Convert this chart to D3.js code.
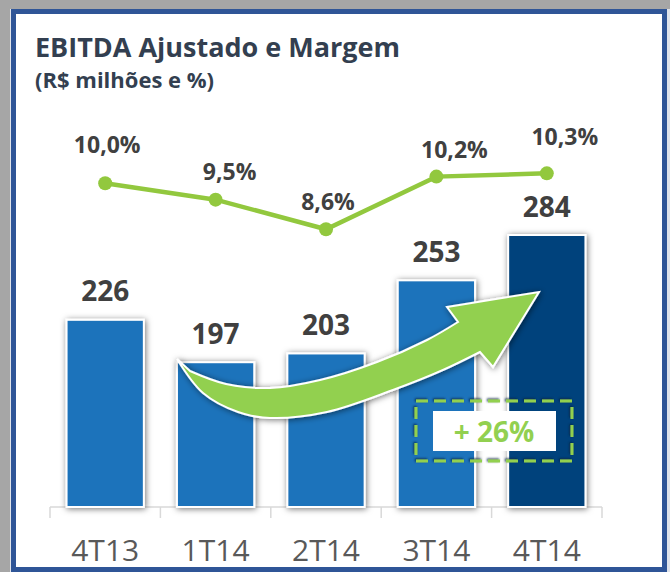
<!DOCTYPE html>
<html>
<head>
<meta charset="utf-8">
<script src="https://cdn.jsdelivr.net/npm/d3@7"></script>
<style>
  html, body { margin: 0; padding: 0; background: #fff; }
  svg { display: block; }
  text { font-family: "Open Sans", "DejaVu Sans", sans-serif; }
</style>
</head>
<body>
<div id="chart"></div>
<script>

// data
var quarters = ["4T13", "1T14", "2T14", "3T14", "4T14"];
var ebitda = [226, 197, 203, 253, 284];          // R$ milhões
var margem = [10.0, 9.5, 8.6, 10.2, 10.3];       // %
var growthLabel = "+ 26%";

// label nudges for the margin labels (dx, dy from the point)
var margemNudge = [[2, -30], [14, -20], [2, -19], [18, -19], [18, -28]];

var width = 670, height = 572;

var svg = d3.select("#chart").append("svg")
    .attr("width", width)
    .attr("height", height);

var defs = svg.append("defs");
var glow = defs.append("filter").attr("id", "glow")
    .attr("x", "-20%").attr("y", "-20%").attr("width", "140%").attr("height", "140%");
glow.append("feDropShadow")
    .attr("dx", 1).attr("dy", 1)
    .attr("stdDeviation", 3)
    .attr("flood-color", "#000")
    .attr("flood-opacity", 0.55);

var darkEdge = defs.append("filter").attr("id", "darkEdge");
darkEdge.append("feDropShadow")
    .attr("dx", -1).attr("dy", -1)
    .attr("stdDeviation", 1)
    .attr("flood-color", "#0b2340")
    .attr("flood-opacity", 0.9);

// frame: gray strip top/left, blue border
svg.append("rect").attr("width", width).attr("height", height).attr("fill", "#a6a6a6");
svg.append("rect").attr("x", 10).attr("y", 9).attr("width", width - 10).attr("height", height - 9).attr("fill", "#dfe3ea");
svg.append("rect")
    .attr("x", 13.5).attr("y", 11.5)
    .attr("width", 651).attr("height", 558)
    .attr("fill", "#fff")
    .attr("stroke", "#2f5597")
    .attr("stroke-width", 5);

// title
svg.append("text")
    .attr("x", 35).attr("y", 57)
    .attr("fill", "#333f50")
    .attr("font-size", 27)
    .attr("font-weight", 700)
    .text("EBITDA Ajustado e Margem");

svg.append("text")
    .attr("x", 35).attr("y", 88)
    .attr("fill", "#333f50")
    .attr("font-size", 22)
    .attr("font-weight", 700)
    .text("(R$ milhões e %)");

// scales
var x = d3.scaleBand()
    .domain(quarters)
    .range([50, 602])
    .paddingInner(0.3)
    .paddingOuter(0.15);

var yBar = d3.scaleLinear().domain([98, 284]).range([507, 235]);
var yPct = d3.scaleLinear().domain([8, 11]).range([249, 150.3]);

function cx(q) { return x(q) + x.bandwidth() / 2; }

// axis line with ticks at the band edges
var axisY = yBar.range()[0];
var edges = d3.range(quarters.length + 1).map(function(i) { return x.range()[0] + i * x.step(); });

var axis = svg.append("g").attr("class", "axis");
axis.append("line")
    .attr("x1", edges[0]).attr("x2", edges[edges.length - 1])
    .attr("y1", axisY).attr("y2", axisY)
    .attr("stroke", "#d9d9d9").attr("stroke-width", 1.5);
axis.selectAll(".tick")
    .data(edges)
    .enter().append("line")
    .attr("x1", function(d) { return d; }).attr("x2", function(d) { return d; })
    .attr("y1", axisY).attr("y2", axisY + 11)
    .attr("stroke", "#d9d9d9").attr("stroke-width", 1.5);
axis.selectAll(".cat")
    .data(quarters)
    .enter().append("text")
    .attr("x", cx)
    .attr("y", 561)
    .attr("text-anchor", "middle")
    .attr("fill", "#595959")
    .attr("font-size", 30)
    .text(function(d) { return d; });

// bars
svg.append("g").selectAll("rect")
    .data(ebitda)
    .enter().append("rect")
    .attr("x", function(d, i) { return x(quarters[i]); })
    .attr("y", function(d) { return yBar(d); })
    .attr("width", x.bandwidth())
    .attr("height", function(d) { return axisY - yBar(d); })
    .attr("fill", function(d, i) { return i === ebitda.length - 1 ? "#02437b" : "#1e73bb"; })
    .attr("stroke", "#fff")
    .attr("stroke-width", 2)
    .attr("filter", "url(#glow)");

svg.append("g").selectAll("text")
    .data(ebitda)
    .enter().append("text")
    .attr("x", function(d, i) { return cx(quarters[i]); })
    .attr("y", function(d) { return yBar(d) - 18.5; })
    .attr("text-anchor", "middle")
    .attr("fill", "#404040")
    .attr("font-size", 28)
    .attr("font-weight", 700)
    .text(function(d) { return d; });

// margin line
var line = d3.line()
    .x(function(d, i) { return cx(quarters[i]); })
    .y(function(d) { return yPct(d); });

svg.append("path")
    .datum(margem)
    .attr("d", line)
    .attr("fill", "none")
    .attr("stroke", "#92c83e")
    .attr("stroke-width", 4.5);

svg.append("g").selectAll("circle")
    .data(margem)
    .enter().append("circle")
    .attr("cx", function(d, i) { return cx(quarters[i]); })
    .attr("cy", function(d) { return yPct(d); })
    .attr("r", 7)
    .attr("fill", "#92c83e");

svg.append("g").selectAll("text")
    .data(margem)
    .enter().append("text")
    .attr("x", function(d, i) { return cx(quarters[i]) + margemNudge[i][0]; })
    .attr("y", function(d, i) { return yPct(d) + margemNudge[i][1]; })
    .attr("text-anchor", "middle")
    .attr("fill", "#404040")
    .attr("font-size", 23)
    .attr("font-weight", 700)
    .text(function(d) { return d3.format(".1f")(d).replace(".", ",") + "%"; });

// growth arrow (annotation)
var upperEdge = [[190, 371], [226, 384], [270, 388], [320, 380], [377, 362], [427, 340], [458, 322]];
var lowerEdge = [[480, 352], [443, 370], [393, 390], [327, 412], [270, 418], [238, 412], [203, 393], [177, 359]];
var head = [[447, 307], [539, 292], [493, 367]];

var curve = d3.line().curve(d3.curveCatmullRom.alpha(0.5));
var arrowPath = curve(upperEdge) + "L" + head.join("L") + "L" + curve(lowerEdge).slice(1) + "Z";

svg.append("path")
    .attr("d", arrowPath)
    .attr("fill", "#92d050")
    .attr("stroke", "#fff")
    .attr("stroke-width", 2)
    .attr("stroke-linejoin", "miter")
    .attr("filter", "url(#glow)");

// growth box
svg.append("rect")
    .attr("x", 416).attr("y", 401)
    .attr("width", 156).attr("height", 60)
    .attr("fill", "none")
    .attr("stroke", "#92d050")
    .attr("stroke-width", 3)
    .attr("stroke-dasharray", "12 6")
    .attr("filter", "url(#darkEdge)");

svg.append("rect")
    .attr("x", 433).attr("y", 411)
    .attr("width", 123).attr("height", 40)
    .attr("fill", "#fff");

svg.append("text")
    .attr("x", 494).attr("y", 442)
    .attr("text-anchor", "middle")
    .attr("fill", "#92d050")
    .attr("font-size", 28)
    .attr("font-weight", 700)
    .text(growthLabel);

</script>
</body>
</html>
